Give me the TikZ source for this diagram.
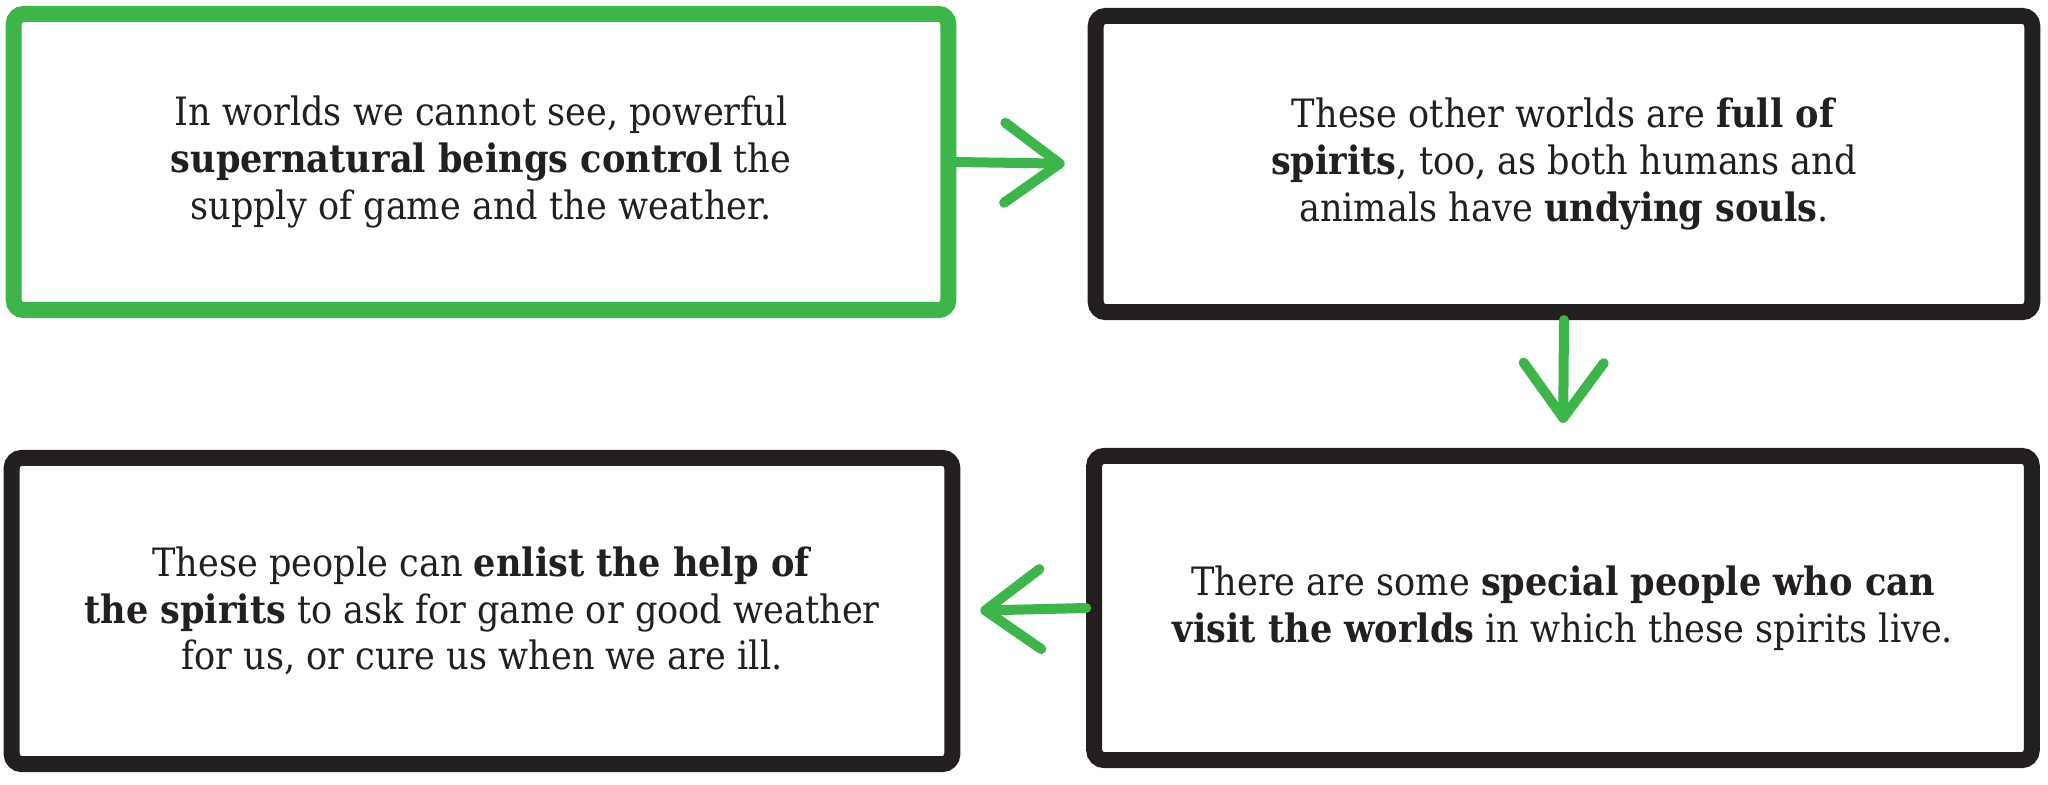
\documentclass[tikz,border=0pt]{standalone}
\usepackage{fontspec}
\setmainfont{DejaVu Serif}[FakeStretch=0.9]
\usepackage{tikz}
\usetikzlibrary{arrows.meta}
\definecolor{crayongreen}{RGB}{61,181,74}
\definecolor{crayonblack}{RGB}{35,31,32}

\begin{document}
\begin{tikzpicture}[x=0.01cm,y=-0.01cm,
    card/.style={draw=crayonblack,line width=1.6mm,rounded corners=1mm,
      align=center,text=crayonblack,font=\fontsize{11.1}{13.3}\selectfont},
    flow/.style={draw=crayongreen,line width=1mm,line cap=round,
      -{Straight Barb[length=5.5mm,width=8mm,round]}}]
            \useasboundingbox (0,0) rectangle (2048,784);

            \node (worlds) at (481,162) [card,draw=crayongreen,minimum width=9.34cm,minimum height=2.96cm]
              {In worlds we cannot see, powerful\\ \textbf{supernatural beings control} the\\ supply of game and the weather.};
            \node (spirits) at (1564,164) [card,minimum width=9.36cm,minimum height=2.96cm]
              {These other worlds are \textbf{full of}\\ \textbf{spirits}, too, as both humans and\\ animals have \textbf{undying souls}.};
            \node (visit) at (1563,608) [card,minimum width=9.37cm,minimum height=3.04cm]
              {There are some \textbf{special people who can}\\ \textbf{visit the worlds} in which these spirits live.};
            \node (help) at (482,611) [card,minimum width=9.40cm,minimum height=3.06cm]
              {These people can \textbf{enlist the help of}\\ \textbf{the spirits} to ask for game or good weather\\ for us, or cure us when we are ill.};

            \draw[flow,shorten >=2.3mm] (worlds.east) -- (spirits.west);
            \draw[flow,shorten >=2.5mm] (spirits.south) -- (visit.north);
            \draw[flow,shorten >=2mm] (visit.west) -- (help.east);

        \end{tikzpicture}
\end{document}
